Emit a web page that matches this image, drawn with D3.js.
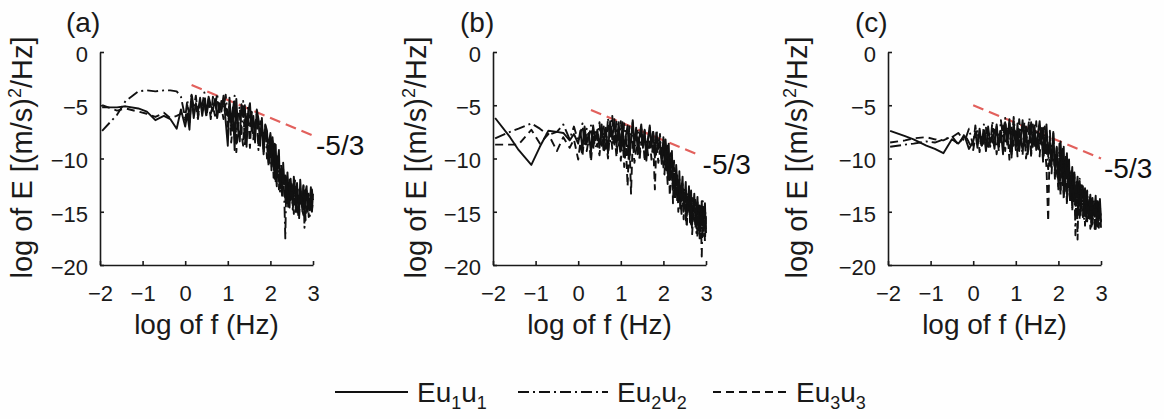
<!DOCTYPE html>
<html>
<head>
<meta charset="utf-8">
<script src="https://cdn.jsdelivr.net/npm/d3@7/dist/d3.min.js"></script>
<style>
  html, body { margin: 0; padding: 0; background: #fefefe; }
  svg { display: block; font-family: "Liberation Sans", Arial, Helvetica, sans-serif; }
</style>
</head>
<body>
<svg id="fig" width="1164" height="419"></svg>
<script>
// log10 of frequency (Hz), shared by every spectrum
const logF = [
  -1.95, -1.6, -1.4, -1.1, -0.9, -0.7, -0.5, -0.35, -0.2, -0.1, 0,
  0.05, 0.1, 0.15, 0.2, 0.25, 0.3, 0.35, 0.4, 0.45, 0.5, 0.55, 0.6, 0.65, 0.7, 0.75, 0.8, 0.85, 0.9, 0.95, 1.0,
  1.04, 1.08, 1.12, 1.16, 1.2, 1.24, 1.28, 1.32, 1.36, 1.4, 1.44, 1.48, 1.52, 1.56, 1.6, 1.64, 1.68, 1.72, 1.76, 1.8, 1.84, 1.88, 1.92, 1.96, 2.0,
  2.025, 2.05, 2.075, 2.1, 2.125, 2.15, 2.175, 2.2, 2.225, 2.25, 2.275, 2.3, 2.325, 2.35, 2.375, 2.4, 2.425, 2.45, 2.475, 2.5,
  2.525, 2.55, 2.575, 2.6, 2.625, 2.65, 2.675, 2.7, 2.725, 2.75, 2.775, 2.8, 2.825, 2.85, 2.875, 2.9, 2.925, 2.95, 2.975, 3.0
];

// log10 of spectral energy, panel (a)
const eu1A = [
  -5.2, -5.2, -5.1, -5.3, -5.6, -6.4, -6.0, -6.3, -7.2, -5.4, -7.0,
  -5.8, -7.3, -4.0, -6.2, -4.8, -5.6, -4.3, -6.0, -4.6, -5.9, -4.2, -5.0, -5.5, -4.4, -6.2, -4.8, -5.6, -4.1, -6.5, -8.8,
  -4.3, -6.9, -5.2, -9.2, -4.4, -7.3, -8.4, -4.9, -6.1, -5.0, -8.9, -5.6, -4.8, -7.4, -6.0, -8.5, -5.4, -6.3, -8.8, -6.2, -9.6, -6.8, -7.4, -10.4, -7.6,
  -10.8, -8.0, -9.4, -11.9, -8.7, -12.2, -10.1, -9.2, -12.8, -11.0, -13.5, -10.4, -12.4, -11.6, -14.2, -11.3, -13.0, -14.6, -11.9, -13.2,
  -14.4, -11.7, -12.9, -15.0, -12.3, -14.1, -15.3, -12.0, -13.6, -14.9, -12.5, -15.4, -13.1, -12.6, -15.0, -13.8, -14.4, -12.7, -14.9, -13.3
];
const eu2A = [
  -7.4, -5.9, -4.6, -3.7, -3.6, -3.7, -3.6, -3.6, -3.7, -4.2, -6.2,
  -4.5, -6.4, -3.9, -5.3, -4.1, -6.1, -4.7, -5.0, -3.8, -5.7, -4.4, -6.3, -4.2, -5.2, -3.9, -5.9, -4.6, -5.3, -4.0, -6.0,
  -4.8, -7.2, -5.5, -4.1, -8.6, -6.0, -5.1, -7.7, -4.6, -8.9, -6.4, -5.0, -7.1, -5.6, -8.0, -7.3, -5.8, -9.2, -6.5, -7.1, -8.2, -6.9, -10.0, -8.3, -7.8,
  -11.1, -8.3, -10.0, -9.0, -12.3, -10.4, -9.6, -11.7, -13.1, -10.6, -12.0, -11.0, -13.5, -17.5, -11.8, -13.2, -14.5, -12.0, -13.9, -12.3,
  -14.8, -13.6, -11.8, -15.0, -12.5, -14.2, -15.6, -12.7, -13.5, -14.6, -12.4, -16.5, -13.8, -12.8, -14.9, -13.1, -15.4, -14.0, -12.9, -14.2
];
const eu3A = [
  -5.0, -5.5, -5.3, -5.6, -5.8, -6.1, -5.7, -6.2, -6.0, -5.8, -6.4,
  -5.0, -6.6, -4.4, -5.8, -5.1, -6.3, -4.6, -5.4, -4.9, -6.1, -4.5, -5.8, -5.1, -6.0, -4.7, -5.5, -5.2, -6.3, -4.8, -7.0,
  -5.5, -8.5, -6.7, -5.2, -9.4, -7.0, -5.9, -7.6, -8.8, -5.4, -7.2, -6.0, -9.0, -5.7, -8.2, -6.6, -6.2, -8.9, -7.5, -6.8, -9.5, -7.2, -8.6, -10.8, -8.0,
  -10.5, -9.1, -11.8, -8.6, -11.4, -12.6, -9.8, -12.9, -11.0, -12.5, -13.6, -11.4, -12.3, -14.1, -12.1, -13.7, -14.8, -12.6, -13.3, -14.1,
  -12.5, -15.2, -13.9, -13.2, -14.5, -15.5, -12.9, -14.2, -13.4, -14.9, -15.3, -13.0, -15.8, -14.0, -13.3, -15.5, -13.6, -14.6, -15.0, -13.8
];

// panel (b)
const eu1B = [
  -6.2, -8.0, -9.2, -10.6, -8.9, -7.4, -7.5, -7.6, -8.3, -7.7, -8.6,
  -7.4, -9.1, -7.0, -8.6, -7.6, -9.4, -6.9, -8.3, -7.3, -9.0, -6.8, -8.7, -7.1, -9.5, -6.5, -8.2, -6.3, -8.9, -6.6, -9.3,
  -6.6, -9.4, -7.8, -6.9, -10.1, -8.3, -6.4, -8.8, -7.1, -9.6, -7.9, -6.8, -9.0, -7.3, -10.2, -8.1, -6.9, -8.9, -7.5, -9.7, -7.6, -9.1, -8.4, -10.5, -8.0,
  -10.6, -8.2, -9.5, -11.4, -8.6, -12.0, -10.3, -9.3, -12.8, -11.4, -13.4, -10.6, -12.2, -14.0, -11.2, -14.6, -12.9, -11.7, -15.0, -13.6,
  -12.2, -15.4, -14.1, -12.6, -15.8, -13.0, -16.2, -14.7, -13.3, -16.0, -15.1, -13.6, -16.5, -14.4, -16.8, -14.0, -16.3, -15.2, -14.2, -17.0
];
const eu2B = [
  -8.1, -7.5, -7.2, -6.7, -7.2, -7.8, -7.5, -6.8, -8.2, -7.0, -8.4,
  -7.8, -6.7, -8.9, -7.2, -8.0, -6.9, -9.2, -7.5, -8.3, -6.6, -8.8, -7.0, -9.1, -6.2, -8.4, -6.0, -8.7, -6.4, -9.0, -6.5,
  -8.8, -6.7, -8.1, -9.8, -7.0, -8.5, -6.6, -9.3, -7.9, -7.2, -10.0, -6.9, -8.9, -7.4, -9.6, -8.3, -7.1, -8.6, -7.5, -9.9, -7.3, -9.2, -7.7, -10.2, -9.0,
  -8.4, -11.2, -9.6, -8.8, -12.1, -10.5, -9.5, -11.6, -13.0, -10.2, -12.7, -11.5, -14.1, -12.6, -11.9, -13.6, -15.2, -12.4, -14.6, -12.8,
  -15.8, -13.2, -14.4, -15.1, -13.5, -16.4, -13.7, -15.7, -14.8, -13.9, -17.0, -14.1, -16.2, -17.5, -14.3, -19.2, -14.0, -16.8, -14.4, -16.9
];
const eu3B = [
  -8.7, -8.7, -8.7, -7.3, -8.6, -7.7, -9.3, -8.0, -9.0, -8.2, -10.1,
  -8.5, -9.8, -7.6, -9.3, -8.1, -10.3, -7.8, -9.0, -8.6, -9.7, -7.4, -9.5, -8.2, -10.0, -7.0, -9.1, -7.6, -9.9, -7.3, -10.2,
  -8.0, -10.8, -8.9, -12.6, -7.7, -13.3, -8.3, -10.4, -9.2, -8.0, -10.0, -8.6, -7.8, -10.3, -8.4, -9.7, -8.1, -10.1, -8.5, -12.9, -8.0, -10.4, -9.3, -8.7, -10.8,
  -11.5, -9.2, -10.6, -12.4, -9.8, -13.5, -11.7, -10.3, -14.2, -10.9, -13.8, -12.6, -11.6, -15.0, -12.3, -14.7, -13.5, -12.9, -15.7, -13.3,
  -15.1, -16.5, -13.6, -14.0, -16.0, -14.2, -17.1, -15.3, -14.5, -16.6, -14.7, -17.5, -14.9, -16.8, -15.9, -14.6, -17.3, -15.0, -17.8, -15.2
];

// panel (c)
const eu1C = [
  -7.4, -7.9, -8.2, -8.8, -9.1, -9.5, -8.2, -8.6, -7.9, -9.1, -8.4,
  -7.5, -9.0, -7.2, -8.8, -7.6, -9.3, -7.0, -8.5, -7.8, -9.1, -6.8, -8.9, -7.4, -9.6, -6.6, -8.7, -6.3, -9.9, -6.5, -9.2,
  -6.7, -9.3, -7.9, -6.4, -8.8, -7.0, -9.6, -8.2, -6.6, -8.9, -6.9, -9.2, -7.6, -6.5, -8.7, -7.1, -9.4, -6.8, -9.8, -8.4, -10.6, -7.5, -11.1, -9.0, -12.0,
  -11.8, -8.4, -10.2, -12.5, -8.9, -13.1, -11.0, -9.5, -12.7, -10.1, -13.6, -12.2, -10.8, -14.0, -11.3, -14.3, -12.9, -11.7, -14.8, -12.1,
  -14.5, -13.3, -12.6, -15.2, -12.9, -14.9, -13.1, -15.6, -14.2, -13.4, -16.0, -13.7, -15.3, -14.6, -13.5, -16.2, -14.0, -15.8, -13.8, -15.9
];
const eu2C = [
  -8.9, -8.7, -8.6, -8.4, -8.5, -8.2, -8.0, -7.6, -8.4, -7.2, -8.8,
  -6.9, -8.6, -7.4, -9.0, -6.8, -8.3, -7.7, -8.9, -6.5, -8.4, -7.0, -9.3, -6.4, -8.0, -6.2, -8.6, -6.6, -9.7, -6.1, -8.4,
  -9.0, -6.3, -8.1, -9.7, -6.6, -8.5, -7.4, -6.2, -9.9, -6.8, -8.7, -6.5, -9.3, -7.8, -6.9, -10.2, -7.0, -9.1, -11.0, -7.4, -10.4, -7.6, -11.5, -8.9, -12.6,
  -8.6, -13.0, -10.2, -9.1, -13.5, -11.3, -9.6, -14.1, -10.4, -12.6, -13.8, -11.0, -14.6, -12.8, -11.5, -17.2, -12.2, -15.0, -13.4, -11.9,
  -15.4, -12.5, -14.1, -15.8, -12.8, -16.1, -13.0, -14.8, -15.7, -13.6, -16.4, -14.5, -13.8, -16.6, -14.0, -15.9, -14.3, -16.5, -14.4, -16.0
];
const eu3C = [
  -8.5, -8.3, -8.1, -8.0, -8.2, -8.3, -7.9, -8.7, -7.7, -8.5, -9.2,
  -8.0, -7.3, -9.4, -7.7, -8.8, -7.1, -9.2, -7.9, -8.5, -7.3, -9.6, -7.6, -8.7, -6.9, -9.3, -7.2, -10.1, -7.0, -8.8, -7.4,
  -9.8, -7.1, -8.4, -9.2, -7.4, -10.0, -8.6, -7.2, -9.5, -7.7, -9.0, -8.3, -7.5, -9.8, -7.3, -10.3, -8.7, -10.8, -15.9, -8.0, -11.4, -8.3, -12.1, -10.2, -12.9,
  -8.8, -13.4, -10.5, -9.3, -13.9, -11.8, -9.9, -14.4, -10.6, -12.7, -14.0, -11.2, -14.9, -13.2, -11.8, -15.3, -12.3, -17.6, -12.7, -15.8,
  -13.0, -14.6, -15.5, -13.3, -16.3, -13.6, -15.9, -14.8, -13.9, -16.6, -14.1, -16.2, -15.0, -14.3, -16.9, -14.0, -16.4, -15.2, -14.4, -16.5
];

// -5/3 reference slope segments (start point and end abscissa per panel)
const slopeValue = -5 / 3;
const slopeText = "-5/3";
const slopeStartX = [0.15, 0.3, 0.0];
const slopeStartY = [-3.1, -5.45, -5.0];
const slopeEndX = [3.0, 2.85, 3.0];

const panelNames = ["(a)", "(b)", "(c)"];
const xTicks = [-2, -1, 0, 1, 2, 3];
const yTicks = [0, -5, -10, -15, -20];
const xTitle = "log of f (Hz)";
const seriesSubs = ["1", "2", "3"];

// ---- layout ----
const W = 1164, H = 419;
const plotLeft = [100, 493, 888];
const plotW = 213;
const plotTop = 52, plotBottom = 265;
const yTitleX = [32, 426, 807];
const labelX = [66, 460, 855];

const styles = [
  { dash: null },            // Eu1u1 solid
  { dash: "11,4,2,4" },      // Eu2u2 dash-dot
  { dash: "8,5" }            // Eu3u3 dashed
];

const svg = d3.select("#fig");
svg.append("rect").attr("width", W).attr("height", H).attr("fill", "#fefefe");

const panelSeries = [[eu1A, eu2A, eu3A], [eu1B, eu2B, eu3B], [eu1C, eu2C, eu3C]];

panelSeries.forEach((series, p) => {
  const x = d3.scaleLinear().domain([-2, 3]).range([plotLeft[p], plotLeft[p] + plotW]);
  const y = d3.scaleLinear().domain([-20, 0]).range([plotBottom, plotTop]);
  const g = svg.append("g");

  // reference slope line, drawn beneath the spectra
  const x0 = slopeStartX[p], y0 = slopeStartY[p], x1 = slopeEndX[p];
  const y1 = y0 + slopeValue * (x1 - x0);
  g.append("line")
    .attr("x1", x(x0)).attr("y1", y(y0))
    .attr("x2", x(x1)).attr("y2", y(y1))
    .attr("stroke", "#e2605c").attr("stroke-width", 2.2)
    .attr("stroke-dasharray", "11,6");
  g.append("text")
    .attr("x", x(x1) + 3).attr("y", y(y1) + 19)
    .attr("font-size", 28).attr("fill", "#111")
    .text(slopeText);

  const line = d3.line().x(d => x(d[0])).y(d => y(d[1]));
  series.forEach((vals, s) => {
    const pts = logF.map((f, i) => [f, vals[i]]).filter(d => d[1] !== undefined);
    g.append("path")
      .attr("d", line(pts))
      .attr("fill", "none")
      .attr("stroke", "#111")
      .attr("stroke-width", 1.9)
      .attr("stroke-linejoin", "round")
      .attr("stroke-dasharray", styles[s].dash);
  });

  // axes with inward ticks
  const ax = g.append("g").attr("transform", `translate(0,${plotBottom})`)
    .call(d3.axisBottom(x).tickValues(xTicks).tickSizeInner(-4).tickSizeOuter(0).tickPadding(20).tickFormat(d3.format("d")));
  const ay = g.append("g").attr("transform", `translate(${plotLeft[p]},0)`)
    .call(d3.axisLeft(y).tickValues(yTicks).tickSizeInner(-4).tickSizeOuter(0).tickPadding(12).tickFormat(d3.format("d")));
  [ax, ay].forEach(a => {
    a.selectAll(".domain").attr("stroke", "#1a1a1a").attr("stroke-width", 1.6);
    a.selectAll(".tick line").attr("stroke", "#1a1a1a").attr("stroke-width", 1.6);
    a.selectAll(".tick text").attr("font-size", 22).attr("fill", "#1a1a1a")
      .attr("font-family", "Liberation Sans, Arial, sans-serif");
  });
  ay.selectAll(".tick text").attr("dy", "0.42em");

  // axis titles
  g.append("text")
    .attr("x", plotLeft[p] + plotW / 2).attr("y", 334)
    .attr("text-anchor", "middle").attr("font-size", 28).attr("fill", "#1a1a1a")
    .text(xTitle);
  const yt = g.append("text")
    .attr("transform", `translate(${yTitleX[p]},${(plotTop + plotBottom) / 2 - 1}) rotate(-90)`)
    .attr("text-anchor", "middle").attr("font-size", 29).attr("fill", "#1a1a1a");
  yt.append("tspan").text("log of E [(m/s)");
  yt.append("tspan").attr("font-size", 18).attr("dy", -11).text("2");
  yt.append("tspan").attr("dy", 11).text("/Hz]");

  // panel tag
  g.append("text")
    .attr("x", labelX[p]).attr("y", 32)
    .attr("font-size", 28).attr("fill", "#1a1a1a")
    .text(panelNames[p]);
});

// legend
const legX = [335, 518, 713];
const legLen = [73, 90, 74];
const legY = 392;
styles.forEach((st, s) => {
  svg.append("line")
    .attr("x1", legX[s]).attr("x2", legX[s] + legLen[s])
    .attr("y1", legY).attr("y2", legY)
    .attr("stroke", "#111").attr("stroke-width", 1.8)
    .attr("stroke-dasharray", st.dash);
  const t = svg.append("text")
    .attr("x", legX[s] + legLen[s] + 9).attr("y", legY + 10)
    .attr("font-size", 28).attr("fill", "#1a1a1a");
  t.append("tspan").text("Eu");
  t.append("tspan").attr("font-size", 18).attr("dy", 7).text(seriesSubs[s]);
  t.append("tspan").attr("dy", -7).text("u");
  t.append("tspan").attr("font-size", 18).attr("dy", 7).text(seriesSubs[s]);
});
</script>
</body>
</html>
